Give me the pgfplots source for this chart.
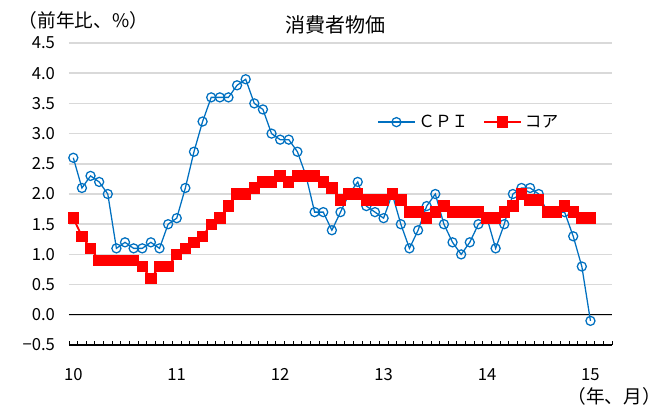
\documentclass[border=0pt]{standalone}
\usepackage{pgfplots}
\pgfplotsset{compat=1.18}
\usepackage{fontspec}
\setmainfont{Noto Sans CJK JP}
\definecolor{cpiblue}{HTML}{0070C0}
\definecolor{gridgray}{HTML}{D9D9D9}

% US CPI, y/y %, 2010/1 - 2015/1 (index 0 = Jan 2010)
\pgfplotstableread{
m cpi core
0 2.6 1.6
1 2.1 1.3
2 2.3 1.1
3 2.2 0.9
4 2.0 0.9
5 1.1 0.9
6 1.2 0.9
7 1.1 0.9
8 1.1 0.8
9 1.2 0.6
10 1.1 0.8
11 1.5 0.8
12 1.6 1.0
13 2.1 1.1
14 2.7 1.2
15 3.2 1.3
16 3.6 1.5
17 3.6 1.6
18 3.6 1.8
19 3.8 2.0
20 3.9 2.0
21 3.5 2.1
22 3.4 2.2
23 3.0 2.2
24 2.9 2.3
25 2.9 2.2
26 2.7 2.3
27 2.3 2.3
28 1.7 2.3
29 1.7 2.2
30 1.4 2.1
31 1.7 1.9
32 2.0 2.0
33 2.2 2.0
34 1.8 1.9
35 1.7 1.9
36 1.6 1.9
37 2.0 2.0
38 1.5 1.9
39 1.1 1.7
40 1.4 1.7
41 1.8 1.6
42 2.0 1.7
43 1.5 1.8
44 1.2 1.7
45 1.0 1.7
46 1.2 1.7
47 1.5 1.7
48 1.6 1.6
49 1.1 1.6
50 1.5 1.7
51 2.0 1.8
52 2.1 2.0
53 2.1 1.9
54 2.0 1.9
55 1.7 1.7
56 1.7 1.7
57 1.7 1.8
58 1.3 1.7
59 0.8 1.6
60 -0.1 1.6
}\usdata

\begin{document}
\begin{tikzpicture}[x=0.75pt,y=-0.75pt]
\path[use as bounding box] (0,0) rectangle (665,408);
\begin{axis}[
  at={(51.75pt,-258.75pt)}, anchor=south west,
  scale only axis, width=407.25pt, height=226.5pt,
  xmin=-0.5, xmax=62.5, ymin=-0.5, ymax=4.5,
  axis x line*=bottom, axis y line*=left,
  y axis line style={draw=none},
  x axis line style={-, black, line width=0.9pt},
  xtick={0,12,24,36,48,60}, xticklabels={10,11,12,13,14,15},
  major x tick style={draw=none},
  minor xtick={-0.5,0.5,...,62.5},
  minor tick length=3pt, tick align=inside,
  minor x tick style={black, line width=0.6pt},
  ytick={-0.5,0,0.5,1,1.5,2,2.5,3,3.5,4,4.5},
  yticklabels={−0.5,0.0,0.5,1.0,1.5,2.0,2.5,3.0,3.5,4.0,4.5},
  major y tick style={draw=none},
  ymajorgrids, grid style={gridgray, line width=1.1pt},
  tick label style={font=\fontsize{12.5pt}{14pt}\selectfont},
  yticklabel style={xshift=-7pt},
  xticklabel style={yshift=-14pt},
  legend style={at={(0.567,0.738)}, anchor=west, draw=none, fill=none,
    font=\fontsize{12.5pt}{14pt}\selectfont, inner sep=0pt,
    /tikz/every even column/.append style={column sep=9pt}},
  legend columns=2,
  legend image code/.code={\draw[mark repeat=2,mark phase=2,#1] plot coordinates {(0pt,0pt)(14pt,0pt)(28pt,0pt)};},
]
\addplot[black, line width=0.9pt, forget plot] coordinates {(-0.5,0)(62.5,0)};
\addplot[cpiblue, line width=0.95pt, mark=o, mark size=3.4pt,
  mark options={fill=white, line width=0.95pt}] table[x=m, y=cpi] {\usdata};
\addlegendentry{ＣＰＩ}
\addplot[red, line width=1.4pt, mark=square*, mark size=3.9pt,
  mark options={fill=red, line width=0pt}] table[x=m, y=core] {\usdata};
\addlegendentry{コア}
\end{axis}
\node[font=\fontsize{15pt}{17pt}\selectfont] at (335,25) {消費者物価};
\node[font=\fontsize{14pt}{17pt}\selectfont, anchor=west] at (14,20) {（前年比、\%）};
\node[font=\fontsize{14pt}{17pt}\selectfont] at (614,396) {（年、月）};
\end{tikzpicture}
\end{document}
